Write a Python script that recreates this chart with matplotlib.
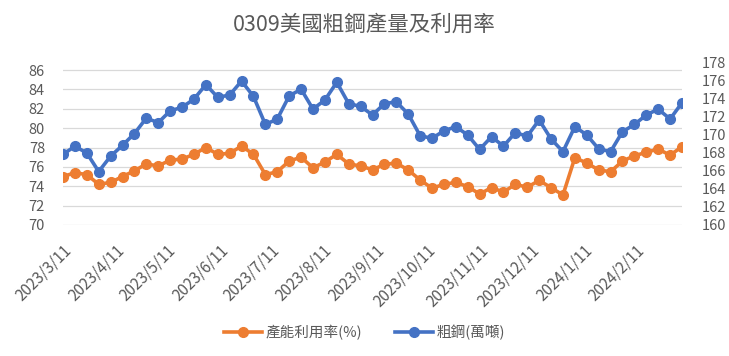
import pandas as pd
import matplotlib
matplotlib.use('Agg')
import matplotlib.pyplot as plt
from matplotlib.transforms import ScaledTranslation

plt.rcParams['font.family'] = ['Noto Sans CJK TC', 'DejaVu Sans']

TITLE = '0309美國粗鋼產量及利用率'
START_DATE = '2023-03-11'

# weekly values
utilization = [75.0, 75.4, 75.2, 74.2, 74.4, 75.0, 75.6, 76.3, 76.1, 76.7,
               76.8, 77.3, 78.0, 77.3, 77.4, 78.15, 77.3, 75.2, 75.5, 76.6,
               77.0, 75.9, 76.5, 77.3, 76.3, 76.1, 75.7, 76.26, 76.4, 75.68,
               74.65, 73.8, 74.2, 74.4, 73.96, 73.2, 73.86, 73.4, 74.2, 73.9,
               74.6, 73.86, 73.1, 76.95, 76.4, 75.68, 75.5, 76.6, 77.15, 77.5,
               77.85, 77.2, 78.1]
crude_steel = [167.8, 168.7, 167.95, 165.9, 167.6, 168.8, 170.1, 171.8, 171.3, 172.6,
               173.0, 173.9, 175.5, 174.1, 174.35, 175.9, 174.2, 171.1, 171.7, 174.25,
               175.0, 172.8, 173.8, 175.76, 173.4, 173.1, 172.15, 173.4, 173.6, 172.26,
               169.86, 169.57, 170.4, 170.85, 169.94, 168.35, 169.75, 168.7, 170.2, 169.8,
               171.6, 169.5, 168.1, 170.86, 169.94, 168.4, 168.1, 170.3, 171.1, 172.15,
               172.8, 171.7, 173.5]
util_label = '產能利用率(%)'
steel_label = '粗鋼(萬噸)'

dates = pd.date_range(START_DATE, periods=len(utilization), freq='7D')
tick_dates = pd.date_range(START_DATE, periods=12, freq=pd.DateOffset(months=1))
tick_labels = [f'{d.year}/{d.month}/{d.day}' for d in tick_dates]

ORANGE = '#ED7D31'
BLUE = '#4472C4'
GRAY = '#595959'

fig = plt.figure(figsize=(7.29, 3.56), dpi=100)
ax = fig.add_axes([63 / 729, 1 - 225 / 356, (682 - 63) / 729, (225 - 62) / 356])
ax2 = ax.twinx()

l1, = ax.plot(dates, utilization, color=ORANGE, lw=2.6, marker='o', ms=7,
              label=util_label, zorder=3)
l2, = ax2.plot(dates, crude_steel, color=BLUE, lw=2.6, marker='o', ms=7,
               label=steel_label, zorder=3)

ax.set_xlim(dates[0], dates[-1])
ax.set_ylim(70, 86.83)
ax.set_yticks(range(70, 87, 2))
ax2.set_ylim(160, 178)
ax2.set_yticks(range(160, 179, 2))

ax.set_xticks(tick_dates)
ax.set_xticklabels(tick_labels, rotation=45, ha='right', rotation_mode='anchor',
                   fontsize=11)
# excel puts the end of each rotated label a little right of its tick
shift = ScaledTranslation(5 / 72, 0, fig.dpi_scale_trans)
for lab in ax.get_xticklabels():
    lab.set_transform(lab.get_transform() + shift)

ax.grid(axis='y', color='#D9D9D9', lw=0.9)
ax.set_axisbelow(True)
for a in (ax, ax2):
    for s in a.spines.values():
        s.set_visible(False)
    a.tick_params(length=0, labelsize=10.5, colors=GRAY)
ax.tick_params(axis='x', labelsize=11, pad=12)
ax.tick_params(axis='y', pad=13)
ax2.tick_params(axis='y', pad=14)

fig.suptitle(TITLE, y=0.962, fontsize=15.5, color=GRAY)
fig.legend(handles=[l1, l2], loc='center', bbox_to_anchor=(0.5, 1 - 332 / 356),
           ncol=2, frameon=False, fontsize=10.5, labelcolor=GRAY,
           handlelength=2.6, columnspacing=2.2, handletextpad=0.3)

fig.savefig('out.png', dpi=100)
